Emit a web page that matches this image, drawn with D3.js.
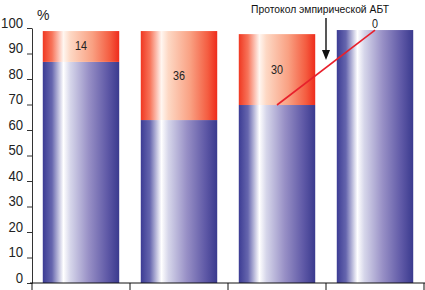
<!DOCTYPE html>
<html>
<head>
<meta charset="utf-8">
<script src="https://cdn.jsdelivr.net/npm/d3@7"></script>
<style>
  body { margin: 0; background: #fff; }
  svg { display: block; font-family: "Liberation Sans", Arial, sans-serif; }
</style>
</head>
<body>
<div id="chart"></div>
<script>
const width = 425;
const height = 290;

// data
const categories = ['1', '2', '3', '4'];
const blueValues = [86.7, 63.9, 69.8, 99.2];
const redValues = [12.1, 34.9, 27.8, 0];
const redLabels = ['14', '36', '30', '0'];
const yTicks = [0, 10, 20, 30, 40, 50, 60, 70, 80, 90, 100];
const noteText = 'Протокол эмпирической АБТ';

const svg = d3.select('#chart')
    .append('svg')
    .attr('width', width)
    .attr('height', height);

const defs = svg.append('defs');

function addGradient (id, stops) {
    const g = defs.append('linearGradient')
        .attr('id', id)
        .attr('x1', '0%').attr('x2', '100%')
        .attr('y1', '0%').attr('y2', '0%');
    stops.forEach(([o, c]) => g.append('stop').attr('offset', o).attr('stop-color', c));
}

addGradient('blueGrad', [
    ['0%', '#3c3c94'],
    ['12%', '#6666ae'],
    ['27%', '#ffffff'],
    ['36%', '#d6d6ea'],
    ['60%', '#9890c6'],
    ['85%', '#5e58a6'],
    ['100%', '#3a3a8e']
]);
addGradient('redGrad', [
    ['0%', '#f03822'],
    ['12%', '#f7745a'],
    ['27%', '#fff6f0'],
    ['36%', '#fdd8c4'],
    ['65%', '#f9a082'],
    ['88%', '#f45c40'],
    ['100%', '#ee2c1c']
]);

const x = d3.scaleBand()
    .domain(categories)
    .range([32, 424])
    .paddingInner(0.22)
    .paddingOuter(0.11);

const y = d3.scaleLinear()
    .domain([0, 100])
    .range([283, 28]);

// bars
const bars = svg.append('g');
bars.selectAll('rect.blue')
    .data(categories)
    .join('rect')
    .attr('class', 'blue')
    .attr('x', d => x(d))
    .attr('width', x.bandwidth())
    .attr('y', (d, i) => y(blueValues[i]))
    .attr('height', (d, i) => y(0) - y(blueValues[i]))
    .attr('fill', 'url(#blueGrad)');

bars.selectAll('rect.red')
    .data(categories)
    .join('rect')
    .attr('class', 'red')
    .attr('x', d => x(d))
    .attr('width', x.bandwidth())
    .attr('y', (d, i) => y(blueValues[i] + redValues[i]))
    .attr('height', (d, i) => y(blueValues[i]) - y(blueValues[i] + redValues[i]))
    .attr('fill', 'url(#redGrad)');

bars.selectAll('text')
    .data(categories)
    .join('text')
    .attr('x', d => x(d) + x.bandwidth() / 2)
    .attr('y', (d, i) => redValues[i] > 0
        ? y(blueValues[i] + redValues[i] / 2) + 4
        : y(blueValues[i]) - 2)
    .attr('text-anchor', 'middle')
    .attr('font-size', 12)
    .attr('textLength', (d, i) => redLabels[i].length * 6)
    .attr('lengthAdjust', 'spacingAndGlyphs')
    .attr('fill', '#222')
    .text((d, i) => redLabels[i]);

// red connector line: blue top of bar 3 to top of bar 4
const c3 = categories[2];
const c4 = categories[3];
svg.append('line')
    .attr('x1', x(c3) + x.bandwidth() / 2)
    .attr('y1', y(blueValues[2]))
    .attr('x2', x(c4) + x.bandwidth() / 2)
    .attr('y2', y(blueValues[3] + redValues[3]))
    .attr('stroke', '#e8202c')
    .attr('stroke-width', 1.6);

// y axis
const yAxis = svg.append('g')
    .attr('transform', 'translate(32,0)')
    .call(d3.axisLeft(y).tickValues(yTicks).tickSize(5).tickPadding(4).tickSizeOuter(0));
yAxis.select('.domain').attr('stroke', '#333');
yAxis.selectAll('.tick line').attr('stroke', '#333');
yAxis.selectAll('.tick text')
    .attr('dy', '-0.05em')
    .attr('font-size', 15)
    .attr('font-family', '"Liberation Sans", Arial, sans-serif')
    .attr('textLength', d => String(d).length * 7.3)
    .attr('lengthAdjust', 'spacingAndGlyphs')
    .attr('fill', '#222');

svg.append('text')
    .attr('x', 37)
    .attr('y', 20)
    .attr('font-size', 14)
    .attr('fill', '#222')
    .text('%');

// x axis with ticks at band boundaries
const step = x.step();
const boundaries = d3.range(categories.length + 1).map(i => x.range()[0] + i * step);
const xAxis = svg.append('g');
xAxis.append('line')
    .attr('x1', 30).attr('x2', width)
    .attr('y1', y(0)).attr('y2', y(0))
    .attr('stroke', '#111');
xAxis.selectAll('line.tick')
    .data(boundaries)
    .join('line')
    .attr('class', 'tick')
    .attr('x1', d => d).attr('x2', d => d)
    .attr('y1', y(0)).attr('y2', height)
    .attr('stroke', '#111');

// annotation arrow
const ax = boundaries[3];
svg.append('text')
    .attr('x', ax - 6)
    .attr('y', 13)
    .attr('text-anchor', 'middle')
    .attr('font-size', 11.5)
    .attr('textLength', 138)
    .attr('lengthAdjust', 'spacingAndGlyphs')
    .attr('fill', '#111')
    .text(noteText);
svg.append('line')
    .attr('x1', ax).attr('x2', ax)
    .attr('y1', 18).attr('y2', 52)
    .attr('stroke', '#111')
    .attr('stroke-width', 1.4);
svg.append('path')
    .attr('d', `M${ax - 4},50 L${ax + 4},50 L${ax},60 Z`)
    .attr('fill', '#111');
</script>
</body>
</html>
